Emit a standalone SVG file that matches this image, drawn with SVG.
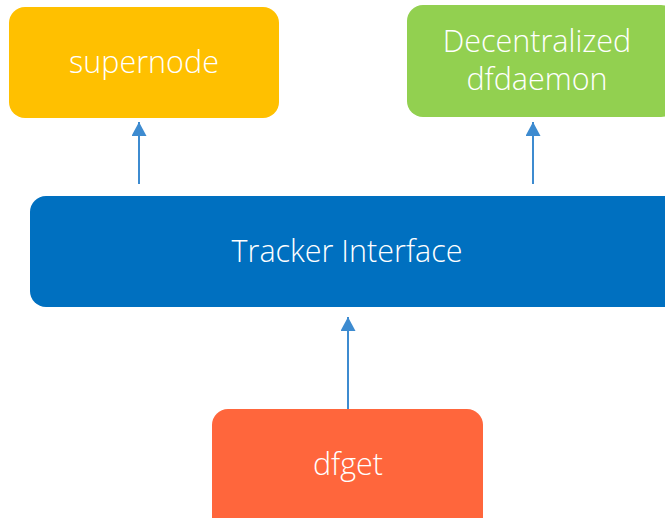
<svg xmlns="http://www.w3.org/2000/svg" width="665" height="518" viewBox="0 0 665 518">
  <style>
    .label { font-family: "Open Sans", "Noto Sans", sans-serif; font-size: 30.5px; font-weight: 300; fill: #ffffff; text-anchor: middle; }
    .edge { stroke: #3d8bd0; stroke-width: 2; fill: none; }
  </style>
  <defs>
    <marker id="arrow" viewBox="0 0 14 15" refX="14" refY="7.5" markerWidth="14" markerHeight="15" markerUnits="userSpaceOnUse" orient="auto">
      <path d="M0,0 L14,7.5 L0,15 z" fill="#3d8bd0"/>
    </marker>
  </defs>
  <rect width="665" height="518" fill="#ffffff"/>

  <g id="connectors">
    <line class="edge" x1="139" y1="184" x2="139" y2="122" marker-end="url(#arrow)"/>
    <line class="edge" x1="533" y1="184" x2="533" y2="122" marker-end="url(#arrow)"/>
    <line class="edge" x1="348" y1="409" x2="348" y2="317" marker-end="url(#arrow)"/>
  </g>

  <g id="supernode">
    <rect x="9" y="7" width="270" height="111" rx="16" fill="#ffc000"/>
    <text class="label" x="144" y="73">supernode</text>
  </g>

  <g id="dfdaemon">
    <rect x="407" y="5" width="270" height="112" rx="16" fill="#92d050"/>
    <text class="label" x="537" y="52">Decentralized</text>
    <text class="label" x="537" y="90">dfdaemon</text>
  </g>

  <g id="tracker">
    <rect x="30" y="196" width="650" height="111" rx="16" fill="#0070c0"/>
    <text class="label" x="347" y="262">Tracker Interface</text>
  </g>

  <g id="dfget">
    <rect x="212" y="409" width="271" height="130" rx="16" fill="#ff663c"/>
    <text class="label" x="348" y="475">dfget</text>
  </g>
</svg>
